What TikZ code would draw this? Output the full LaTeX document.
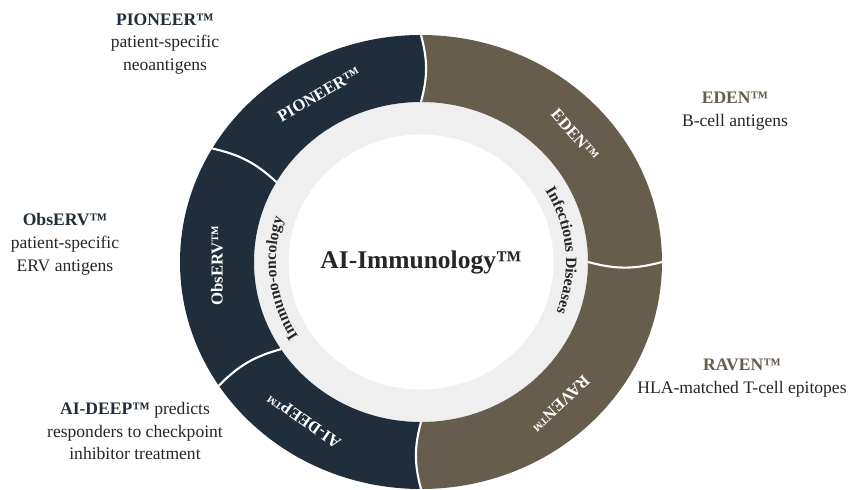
\documentclass[tikz,border=0pt]{standalone}
\usepackage{fontspec}
\setmainfont{Liberation Serif}
\usetikzlibrary{decorations.text}

\definecolor{navy}{HTML}{1F2E3A}
\definecolor{umber}{HTML}{675D4C}
\definecolor{band}{HTML}{EFEFEF}
\definecolor{ink}{HTML}{262626}

\newcommand{\bandfont}{\fontsize{9}{10}\selectfont\bfseries}

% one coloured part of the ring, from angle #2 to angle #3
\newcommand{\ringpart}[3]{%
  \fill[#1] (#2:4.82 and 4.54)
    arc[start angle=#2, end angle=#3, x radius=4.82, y radius=4.54]
    to[bend left=15] (#3:3.34 and 3.2)
    arc[start angle=#3, end angle=#2, x radius=3.34, y radius=3.2]
    to[bend right=15] (#2:4.82 and 4.54) -- cycle;}

\tikzset{
  ringlbl/.style={text=white, font=\fontsize{9.5}{11}\selectfont\bfseries},
  sidelbl/.style={align=center, text=ink, font=\fontsize{10}{13}\selectfont},
  divider/.style={draw=white, line width=1.2pt},
}

\begin{document}
\begin{tikzpicture}
\fill[white] (-8.42,-4.54) rectangle (8.58,5.24);
\useasboundingbox (-8.42,-4.54) rectangle (8.58,5.24);

% ring
\fill[band] (0,0) ellipse[x radius=3.34, y radius=3.2];
\fill[white] (0,0) ellipse[x radius=2.65, y radius=2.55];
\ringpart{umber}{-90}{90}
\ringpart{navy}{90}{270}
\foreach \a in {0,90,150,213,270}
  \draw[divider] (\a:4.82 and 4.54) to[bend left=15] (\a:3.34 and 3.2);

\node[ringlbl, rotate=30] (pioneer) at (120:4.08 and 3.87) {PIONEER™};
\node[ringlbl, rotate=90] (observ) at (181:4.08 and 3.87) {ObsERV™};
\node[ringlbl, rotate=145] (aideep) at (235:4.08 and 3.87) {AI-DEEP™};
\node[ringlbl, rotate=-137] (raven) at (-47:4.08 and 3.87) {RAVEN™};
\node[ringlbl, rotate=-49] (eden) at (41:4.08 and 3.87) {EDEN™};

% inner band texts
\path[decorate, decoration={text along path, text color=ink, text align=center,
  text={|\bandfont|Infectious Diseases}}]
  (30:2.9 and 2.78) arc[start angle=30, end angle=-20, x radius=2.9, y radius=2.78];
\path[decorate, decoration={text along path, text color=ink, text align=center,
  text={|\bandfont|Immuno-oncology}}]
  (211:2.9 and 2.78) arc[start angle=211, end angle=163, x radius=2.9, y radius=2.78];

\node[text=ink, font=\fontsize{14.5}{17}\selectfont\bfseries] (core) at (0,0) {AI-Immunology™};

% descriptions
\node[sidelbl] (pioneerinfo) at (-5.12,4.36)
  {\textcolor{navy}{\bfseries PIONEER™}\\patient-specific\\neoantigens};
\node[sidelbl] (observinfo) at (-7.12,0.36)
  {\textcolor{navy}{\bfseries ObsERV™}\\patient-specific\\ERV antigens};
\node[sidelbl] (aideepinfo) at (-5.72,-3.38)
  {\textcolor{navy}{\bfseries AI-DEEP™} predicts\\responders to checkpoint\\inhibitor treatment};
\node[sidelbl] (edeninfo) at (6.28,3.02)
  {\textcolor{umber}{\bfseries EDEN™}\\B-cell antigens};
\node[sidelbl] (raveninfo) at (6.42,-2.32)
  {\textcolor{umber}{\bfseries RAVEN™}\\HLA-matched T-cell epitopes};
\end{tikzpicture}
\end{document}
